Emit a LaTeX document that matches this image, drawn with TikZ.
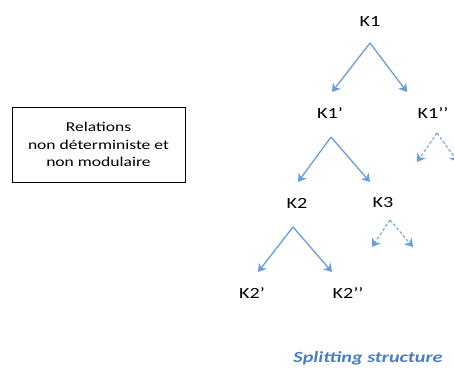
\documentclass[tikz,border=0pt]{standalone}
\usepackage{fontspec}
\setmainfont{Carlito}[FakeStretch=1.3]
\usepackage{tikz}
\usetikzlibrary{arrows.meta}
\definecolor{arw}{RGB}{105,158,220}
\definecolor{capt}{RGB}{75,125,192}

\begin{document}
\begin{tikzpicture}[x=1pt,y=-1pt,>={Stealth[length=8pt,width=10pt,inset=2.5pt]},
  lbl/.style={font=\fontsize{15.5}{18}\selectfont,inner sep=1pt},
  rel/.style={draw,line width=0.8pt,align=center,font=\fontsize{13.5}{17.5}\selectfont,minimum width=173pt,minimum height=75pt},
  spl/.style={->,arw,line width=1.3pt},
  spldash/.style={->,arw,dashed,dash pattern=on 3pt off 2pt,line width=1pt},
  capt/.style={font=\fontsize{15.5}{18}\selectfont\bfseries\itshape,text=capt}]
  \useasboundingbox (0,0) rectangle (454,370);
  % left box
  \node[rel] (rel) at (98.5,144.5) {Relations\\non déterministe et\\non modulaire};
  % tree labels
  \node[lbl] (k1) at (370,22) {K1};
  \node[lbl] (k1p) at (330,113) {K1’};
  \node[lbl] (k1pp) at (433,113) {K1’’};
  \node[lbl] (k2) at (297,203) {K2};
  \node[lbl] (k3) at (383,203) {K3};
  \node[lbl] (k2p) at (252,293) {K2’};
  \node[lbl] (k2pp) at (348,293) {K2’’};
  \node[capt] (split) at (368,358) {Splitting structure};
  % apexes and arrow ends
  \coordinate (k1a) at (370,43);
  \coordinate (k1l) at (332,92); \coordinate (k1r) at (407,92);
  \coordinate (k1pa) at (331,137);
  \coordinate (k1pl) at (298,182); \coordinate (k1pr) at (370,182);
  \coordinate (k1ppa) at (437,133);
  \coordinate (k1ppl) at (417,162); \coordinate (k1ppr) at (458,162);
  \coordinate (k2a) at (293,227);
  \coordinate (k2l) at (258,272); \coordinate (k2r) at (332,272);
  \coordinate (k3a) at (390,220);
  \coordinate (k3l) at (372,247); \coordinate (k3r) at (413,247);
  \draw[spl] (k1a)--(k1l); \draw[spl] (k1a)--(k1r);
  \draw[spl] (k1pa)--(k1pl); \draw[spl] (k1pa)--(k1pr);
  \draw[spl] (k2a)--(k2l); \draw[spl] (k2a)--(k2r);
  \draw[spldash] (k1ppa)--(k1ppl); \draw[spldash] (k1ppa)--(k1ppr);
  \draw[spldash] (k3a)--(k3l); \draw[spldash] (k3a)--(k3r);
\end{tikzpicture}
\end{document}
